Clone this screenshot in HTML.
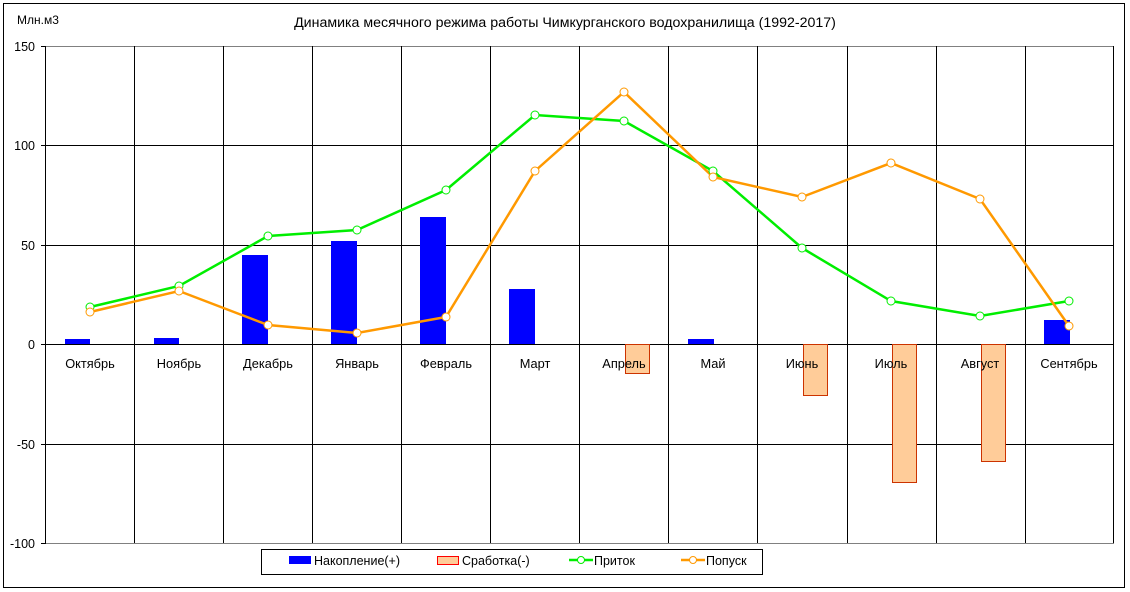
<!DOCTYPE html>
<html><head><meta charset="utf-8"><style>
html,body{margin:0;padding:0;background:#fff;}
svg{display:block;font-family:"Liberation Sans",Arial,sans-serif;}
</style></head><body>
<svg width="1130" height="592" viewBox="0 0 1130 592" xmlns="http://www.w3.org/2000/svg">
<rect x="0" y="0" width="1130" height="592" fill="#fff"/>
<rect x="3.5" y="3.5" width="1121" height="584" fill="#fff" stroke="#000" stroke-width="1"/>
<text x="17" y="24" font-size="12">Млн.м3</text>
<text x="565" y="27" font-size="14.2" text-anchor="middle">Динамика месячного режима работы Чимкурганского водохранилища (1992-2017)</text>
<line x1="46" y1="46.5" x2="1114" y2="46.5" stroke="#808080"/>
<line x1="46" y1="543.5" x2="1114" y2="543.5" stroke="#808080"/>
<g stroke="#000" stroke-width="1">
<line x1="46" y1="145.5" x2="1114" y2="145.5"/>
<line x1="46" y1="245.5" x2="1114" y2="245.5"/>
<line x1="46" y1="344.5" x2="1114" y2="344.5"/>
<line x1="46" y1="444.5" x2="1114" y2="444.5"/>
<line x1="41" y1="46.5" x2="46" y2="46.5"/>
<line x1="41" y1="145.5" x2="46" y2="145.5"/>
<line x1="41" y1="245.5" x2="46" y2="245.5"/>
<line x1="41" y1="344.5" x2="46" y2="344.5"/>
<line x1="41" y1="444.5" x2="46" y2="444.5"/>
<line x1="41" y1="543.5" x2="46" y2="543.5"/>
<line x1="45.5" y1="46" x2="45.5" y2="543"/>
<line x1="134.5" y1="46" x2="134.5" y2="543"/>
<line x1="223.5" y1="46" x2="223.5" y2="543"/>
<line x1="312.5" y1="46" x2="312.5" y2="543"/>
<line x1="401.5" y1="46" x2="401.5" y2="543"/>
<line x1="490.5" y1="46" x2="490.5" y2="543"/>
<line x1="579.5" y1="46" x2="579.5" y2="543"/>
<line x1="668.5" y1="46" x2="668.5" y2="543"/>
<line x1="757.5" y1="46" x2="757.5" y2="543"/>
<line x1="847.5" y1="46" x2="847.5" y2="543"/>
<line x1="936.5" y1="46" x2="936.5" y2="543"/>
<line x1="1025.5" y1="46" x2="1025.5" y2="543"/>
<line x1="1113.5" y1="46" x2="1113.5" y2="543"/>
</g>
<g font-size="12.5" text-anchor="end">
<text x="35" y="51">150</text><text x="35" y="150">100</text><text x="35" y="250">50</text>
<text x="35" y="349">0</text><text x="35" y="449">-50</text><text x="35" y="548">-100</text>
</g>
<g fill="#0000ff">
<rect x="65" y="339" width="25" height="5"/>
<rect x="154" y="338" width="25" height="6"/>
<rect x="242" y="255" width="26" height="89"/>
<rect x="331" y="241" width="26" height="103"/>
<rect x="420" y="217" width="26" height="127"/>
<rect x="509" y="289" width="26" height="55"/>
<rect x="688" y="339" width="26" height="5"/>
<rect x="1044" y="320" width="26" height="24"/>
</g>
<g fill="#ffcc99" stroke="#cc3300" stroke-width="1">
<rect x="625.5" y="344.5" width="24" height="29"/>
<rect x="803.5" y="344.5" width="24" height="51"/>
<rect x="892.5" y="344.5" width="24" height="138"/>
<rect x="981.5" y="344.5" width="24" height="117"/>
</g>
<g font-size="12.8" text-anchor="middle">
<text x="90" y="368">Октябрь</text><text x="179" y="368">Ноябрь</text><text x="268" y="368">Декабрь</text>
<text x="357" y="368">Январь</text><text x="446" y="368">Февраль</text><text x="535" y="368">Март</text>
<text x="624" y="368">Апрель</text><text x="713" y="368">Май</text><text x="802" y="368">Июнь</text>
<text x="891" y="368">Июль</text><text x="980" y="368">Август</text><text x="1069" y="368">Сентябрь</text>
</g>
<polyline fill="none" stroke="#00ee00" stroke-width="2.5" points="90,307 179,286 268,236 357,230 446,190 535,115 624,121 713,171 802,248 891,301 980,316 1069,301"/>
<polyline fill="none" stroke="#ff9900" stroke-width="2.5" points="90,312 179,291 268,325 357,333 446,317 535,171 624,92 713,177 802,197 891,163 980,199 1069,326"/>
<g fill="#fff" stroke="#00ee00" stroke-width="1">
<circle cx="90" cy="307" r="4"/><circle cx="179" cy="286" r="4"/><circle cx="268" cy="236" r="4"/><circle cx="357" cy="230" r="4"/><circle cx="446" cy="190" r="4"/><circle cx="535" cy="115" r="4"/><circle cx="624" cy="121" r="4"/><circle cx="713" cy="171" r="4"/><circle cx="802" cy="248" r="4"/><circle cx="891" cy="301" r="4"/><circle cx="980" cy="316" r="4"/><circle cx="1069" cy="301" r="4"/>
</g>
<g fill="#fff" stroke="#ff9900" stroke-width="1">
<circle cx="90" cy="312" r="4"/><circle cx="179" cy="291" r="4"/><circle cx="268" cy="325" r="4"/><circle cx="357" cy="333" r="4"/><circle cx="446" cy="317" r="4"/><circle cx="535" cy="171" r="4"/><circle cx="624" cy="92" r="4"/><circle cx="713" cy="177" r="4"/><circle cx="802" cy="197" r="4"/><circle cx="891" cy="163" r="4"/><circle cx="980" cy="199" r="4"/><circle cx="1069" cy="326" r="4"/>
</g>
<rect x="261.5" y="549.5" width="501" height="25" fill="#fff" stroke="#000"/>
<rect x="289" y="556" width="22" height="8" fill="#0000ff"/>
<text x="314" y="565" font-size="12.5">Накопление(+)</text>
<rect x="437.5" y="556.5" width="21" height="8" fill="#ffcc99" stroke="#ff0000"/>
<text x="462" y="565" font-size="12.5">Сработка(-)</text>
<line x1="569" y1="560" x2="593" y2="560" stroke="#00ee00" stroke-width="2.5"/>
<circle cx="581" cy="560" r="3.5" fill="#fff" stroke="#00ee00"/>
<text x="594" y="565" font-size="12.5">Приток</text>
<line x1="681" y1="560" x2="705" y2="560" stroke="#ff9900" stroke-width="2.5"/>
<circle cx="693" cy="560" r="3.5" fill="#fff" stroke="#ff9900"/>
<text x="706" y="565" font-size="12.5">Попуск</text>
</svg>
</body></html>
